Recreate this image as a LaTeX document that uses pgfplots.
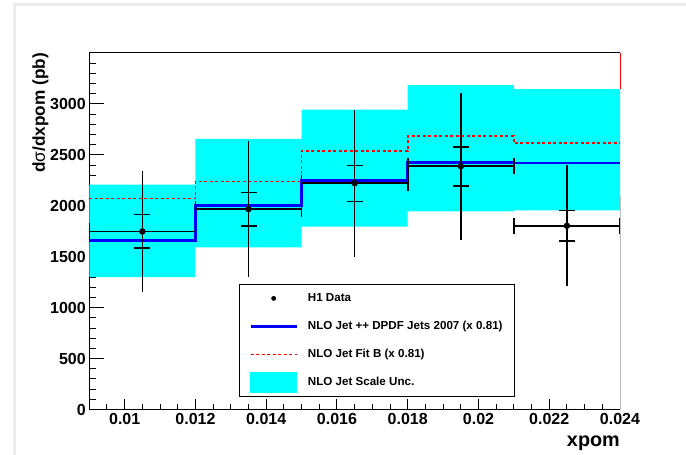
\documentclass[border=0pt]{standalone}
\usepackage{fontspec}
\setmainfont{Liberation Sans}
\usepackage{pgfplots}
\usepackage{pgfplotstable}
\pgfplotsset{compat=1.18}
\definecolor{rcyan}{RGB}{0,255,255}
\definecolor{rblue}{RGB}{0,0,255}
\definecolor{rred}{RGB}{255,0,0}
\pgfplotstableread{
x y ex eyt eytm eys eysm
0.0105 1748 0.0015 597 593 165 161
0.0135 1968 0.0015 672 672 161 164
0.0165 2222 0.0015 723 725 172 179
0.0195 2388 0.0015 721 728 190 193
0.0225 1804 0.0015 593 596 148 150
}\datatable
\begin{document}
\begin{tikzpicture}
\path[use as bounding box] (0,0) rectangle (686pt,455pt);
\fill[white] (0,0) rectangle (686pt,455pt);
\draw[black!8, line width=3pt] (14pt,0pt) -- (14pt,450pt) -- (686pt,450pt);
\begin{axis}[
  at={(89.3pt,45.5pt)}, anchor=south west, scale only axis,
  width=530.7pt, height=356.5pt,
  xmin=0.009, xmax=0.024, ymin=0, ymax=3500,
  clip=false,
  axis x line*=bottom, axis y line*=left,
  axis line style={line width=1pt, black},
  tick align=inside,
  xtick={0.01,0.012,0.014,0.016,0.018,0.02,0.022,0.024},
  xticklabels={0.01,0.012,0.014,0.016,0.018,0.02,0.022,0.024},
  minor xtick={0.0095,0.0105,0.011,0.0115,0.0125,0.013,0.0135,0.0145,0.015,0.0155,0.0165,0.017,0.0175,0.0185,0.019,0.0195,0.0205,0.021,0.0215,0.0225,0.023,0.0235},
  ytick={0,500,1000,1500,2000,2500,3000},
  yticklabels={0,500,1000,1500,2000,2500,3000},
  minor ytick={100,200,...,3400},
  scaled ticks=false,
  xtick style={line width=1pt, black, /pgfplots/major tick length=10pt, /pgfplots/minor tick length=5pt},
  ytick style={line width=1pt, black, /pgfplots/major tick length=14.7pt, /pgfplots/minor tick length=7pt},
  tick label style={font=\fontsize{16}{16}\selectfont\bfseries},
  xlabel={xpom},
  ylabel={d{\mdseries σ}/dxpom (pb)},
  xlabel style={font=\fontsize{19.8}{20}\selectfont\bfseries, at={(axis description cs:1,-0.105)}, anchor=base east, inner sep=0pt},
  ylabel style={font=\fontsize{17.2}{18}\selectfont\bfseries, at={(axis description cs:-0.0835,1)}, anchor=base east, inner sep=0pt},
  legend style={at={(axis description cs:0.2821,0.352)}, anchor=north west,
    draw=black, line width=0.8pt, fill=white,
    font=\fontsize{11.6}{12}\selectfont\bfseries,
    inner xsep=10pt, inner ysep=0pt, row sep=0pt,
    /tikz/every odd column/.append style={column sep=8pt},
    cells={anchor=west}},
]
% scale uncertainty band
\addplot[fill=rcyan, draw=none, forget plot] coordinates {
 (0.009,2207)(0.012,2207)(0.012,2657)(0.015,2657)(0.015,2945)(0.018,2945)(0.018,3184)(0.021,3184)(0.021,3145)(0.024,3145)
 (0.024,1955)(0.021,1955)(0.021,1945)(0.018,1945)(0.018,1795)(0.015,1795)(0.015,1591)(0.012,1591)(0.012,1300)(0.009,1300)} -- cycle;
\addplot[rred, line width=1pt, forget plot] coordinates {(0.024,3145)(0.024,3500)};
% Fit B
\addplot[rred, line width=1.6pt, dash pattern=on 3pt off 2.5pt, const plot, forget plot] coordinates {
 (0.009,2070)(0.012,2237)(0.015,2535)(0.018,2683)(0.021,2614)(0.024,2614)};
% DPDF Jets 2007
\addplot[rblue, line width=2.5pt, const plot, forget plot] coordinates {
 (0.009,1657)(0.012,2004)(0.015,2247)(0.018,2427)(0.021,2421)(0.024,2421)};
% data: horizontal bars
\addplot[only marks, mark=none, forget plot,
  error bars/.cd, x dir=both, x explicit,
  error bar style={draw=black, solid, line width=1.7pt},
  error mark options={rotate=90, mark size=8pt, line width=1.6pt, draw=black}]
  table[x=x, y=y, x error=ex] {\datatable};
% total errors
\addplot[only marks, mark=none, forget plot,
  error bars/.cd, y dir=both, y explicit, error mark=none,
  error bar style={draw=black, solid, line width=1.6pt}]
  table[x=x, y=y, y error plus=eyt, y error minus=eytm] {\datatable};
% stat errors + points
\addplot[only marks, mark=*, mark size=3pt, black, forget plot,
  error bars/.cd, y dir=both, y explicit,
  error bar style={draw=black, solid, line width=1.6pt},
  error mark options={rotate=90, mark size=8pt, line width=1.6pt, draw=black}]
  table[x=x, y=y, y error plus=eys, y error minus=eysm] {\datatable};
% frame
\draw[black, line width=1pt] (rel axis cs:0,1) -- (rel axis cs:1,1);
\draw[black!25, line width=1pt] (rel axis cs:1,0) -- (rel axis cs:1,0.6);
% legend
\addlegendimage{legend image code/.code={\path[draw=none,fill=none] (0pt,-14pt) rectangle (46pt,14pt); \fill[black] (23pt,0pt) circle (2pt);}}
\addlegendentry{H1 Data}
\addlegendimage{legend image code/.code={\path[draw=none,fill=none] (0pt,-14pt) rectangle (46pt,14pt); \draw[rblue, line width=2.5pt] (0pt,0pt) -- (46pt,0pt);}}
\addlegendentry{NLO Jet ++ DPDF Jets 2007 (x 0.81)}
\addlegendimage{legend image code/.code={\path[draw=none,fill=none] (0pt,-14pt) rectangle (46pt,14pt); \draw[rred, line width=1.2pt, dash pattern=on 3pt off 2.5pt] (0pt,0pt) -- (46pt,0pt);}}
\addlegendentry{NLO Jet Fit B (x 0.81)}
\addlegendimage{legend image code/.code={\path[draw=none,fill=none] (0pt,-14pt) rectangle (46pt,14pt); \fill[rcyan] (0pt,-10pt) rectangle (46pt,10pt);}}
\addlegendentry{NLO Jet Scale Unc.}
\end{axis}
\end{tikzpicture}
\end{document}
